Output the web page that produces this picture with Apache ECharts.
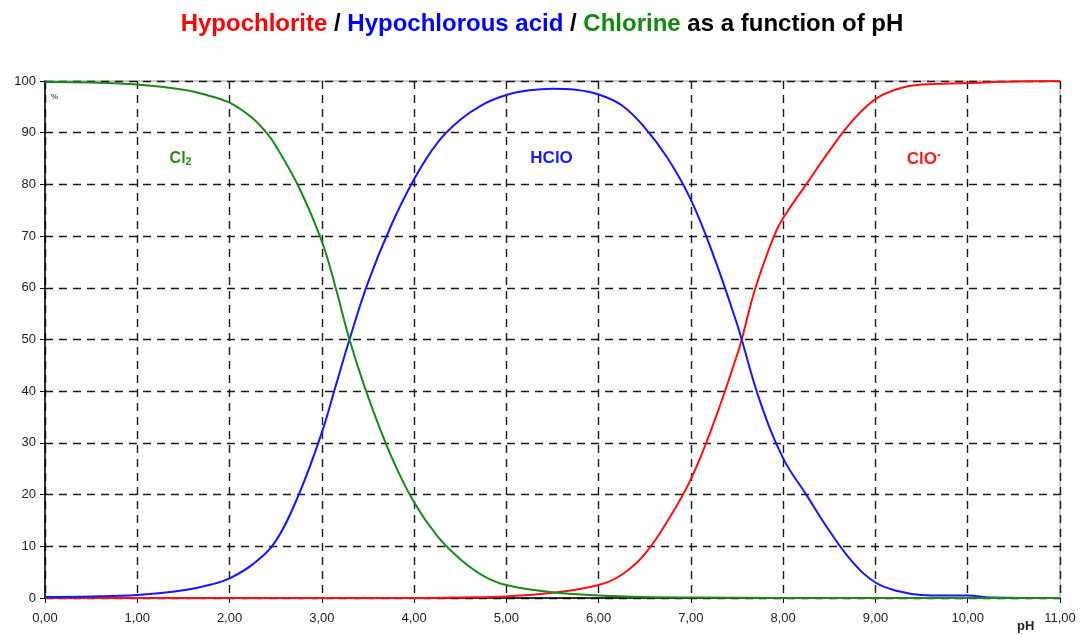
<!DOCTYPE html>
<html><head><meta charset="utf-8">
<script src="https://cdn.jsdelivr.net/npm/echarts@6/dist/echarts.min.js"></script>
<style>html,body{margin:0;padding:0;background:#fff}#c{width:1084px;height:635px}</style>
</head><body><div id="c"></div>
<script>
// Values: [pH, %]
const chlorine = [[0,99.8],[0.5,99.7],[1,99.3],[1.5,98.3],[1.75,97.3],[2,95.8],[2.25,92.8],[2.4,90],[2.5,87.5],[2.75,79.5],[3,69],[3.15,60],[3.3,50],[3.5,39],[3.75,27.5],[4,18.5],[4.25,12],[4.5,7.5],[4.75,4.3],[5,2.5],[5.5,1.1],[6,0.5],[6.5,0.2],[7,0.1],[8,0],[9,0],[10,0],[11,0]];
const hypochlorousAcid = [[0,0.2],[0.5,0.3],[1,0.6],[1.5,1.5],[1.8,2.6],[2,3.8],[2.25,6.5],[2.5,11],[2.75,20],[3,32],[3.15,41],[3.3,50],[3.5,61],[3.75,72],[4,81],[4.25,88],[4.5,92.5],[4.75,95.5],[5,97.3],[5.25,98.2],[5.5,98.5],[5.75,98.3],[6,97.4],[6.25,95.3],[6.5,91],[6.75,85],[7,77],[7.25,66],[7.5,53],[7.55,50],[7.75,38],[8,27],[8.25,20],[8.5,13],[8.75,7],[9,3],[9.25,1.3],[9.5,0.6],[9.75,0.5],[10,0.5],[10.25,0.1],[11,0]];
const hypochlorite = [[0,0],[1,0],[2,0],[3,0],[4,0],[4.5,0.1],[5,0.3],[5.5,1],[6,2.5],[6.25,4.5],[6.5,8.5],[6.75,15],[7,23],[7.25,34],[7.5,47],[7.55,50],[7.7,60],[7.9,70],[8,73.5],[8.25,80],[8.5,86.5],[8.75,92.3],[9,96.5],[9.25,98.5],[9.5,99.3],[10,99.6],[10.5,99.9],[11,100]];
const xTicks = [0,1,2,3,4,5,6,7,8,9,10,11];
const yTicks = [0,10,20,30,40,50,60,70,80,90,100];
const seriesNames = ['Chlorine','Hypochlorous acid','Hypochlorite'];
const colors = {green:'#178a17', blue:'#1515ff', red:'#ff1010'};

const chart = echarts.init(document.getElementById('c'));
const FONT = '"Liberation Sans", Arial, sans-serif';
function label(x, y, text, rich){
  return {coord:[x,y], value:0, symbol:'circle', symbolSize:1, itemStyle:{color:'rgba(0,0,0,0)'},
    label:{show:true, position:'inside', formatter:text, fontFamily:FONT, fontSize:16, rich:rich}};
}
const option = {
  animation:false,
  backgroundColor:'#fff',
  title:{
    left:'center', top:7,
    text:'{r|Hypochlorite}{k| / }{b|Hypochlorous acid}{k| / }{g|Chlorine}{k| as a function of pH}',
    textStyle:{
      fontFamily:FONT, fontSize:24, fontWeight:'bold',
      rich:{
        r:{color:'#ff0000',fontFamily:FONT,fontSize:24,fontWeight:'bold'},
        b:{color:'#0000ff',fontFamily:FONT,fontSize:24,fontWeight:'bold'},
        g:{color:'#0e8a0e',fontFamily:FONT,fontSize:24,fontWeight:'bold'},
        k:{color:'#000',fontFamily:FONT,fontSize:24,fontWeight:'bold'}
      }
    }
  },
  grid:{left:45, right:24, top:81, bottom:37, show:true, borderColor:'#9a9a9a', borderWidth:1},
  xAxis:{
    type:'value', min:xTicks[0], max:xTicks[xTicks.length-1], interval:1,
    axisLine:{show:true, onZero:false, lineStyle:{color:'#000', width:1.5}},
    axisTick:{show:true, length:5, lineStyle:{color:'#000'}},
    axisLabel:{color:'#222', fontFamily:FONT, fontSize:13, margin:14, formatter:v=>v.toFixed(2).replace('.',',')},
    splitLine:{show:true, lineStyle:{color:'#1a1a1a', type:[8,6], width:1.4}}
  },
  yAxis:{
    type:'value', min:yTicks[0], max:yTicks[yTicks.length-1], interval:10,
    axisLine:{show:true, onZero:false, lineStyle:{color:'#000', width:1.5}},
    axisTick:{show:true, length:5, lineStyle:{color:'#000'}},
    axisLabel:{color:'#222', fontFamily:FONT, fontSize:13, margin:9},
    splitLine:{show:true, lineStyle:{color:'#1a1a1a', type:[8,6], width:1.4}}
  },
  graphic:[
    {type:'text', left:1017, top:620, style:{text:'pH', font:'bold 13px "Liberation Sans", Arial', fill:'#222'}},
    {type:'text', left:51, top:93, style:{text:'%', font:'bold 8px "Liberation Sans", Arial', fill:'#555'}}
  ],
  series:[
    {name:seriesNames[0], type:'line', data:chlorine, smooth:0.4, showSymbol:false, lineStyle:{color:colors.green, width:2}, itemStyle:{color:colors.green}, z:3,
     markPoint:{data:[label(1.47,85,'{a|Cl}{s|2}',{a:{color:'#2a8a1a',fontFamily:FONT,fontSize:16,fontWeight:'bold'},s:{color:'#2a8a1a',fontFamily:FONT,fontSize:11,fontWeight:'bold',padding:[7,0,0,0]}})]}},
    {name:seriesNames[1], type:'line', data:hypochlorousAcid, smooth:0.4, showSymbol:false, lineStyle:{color:colors.blue, width:2}, itemStyle:{color:colors.blue}, z:2,
     markPoint:{data:[label(5.49,85,'{a|HClO}',{a:{color:'#1a1aff',fontFamily:FONT,fontSize:17,fontWeight:'bold'}})]}},
    {name:seriesNames[2], type:'line', data:hypochlorite, smooth:0.4, showSymbol:false, lineStyle:{color:colors.red, width:2}, itemStyle:{color:colors.red}, z:1,
     markPoint:{data:[label(9.52,84.8,'{a|ClO}{s|▪}',{a:{color:'#ff1a1a',fontFamily:FONT,fontSize:17,fontWeight:'bold'},s:{color:'#ff1a1a',fontFamily:FONT,fontSize:9,padding:[0,0,9,0]}})]}}
  ]
};
chart.setOption(option);
</script></body></html>
